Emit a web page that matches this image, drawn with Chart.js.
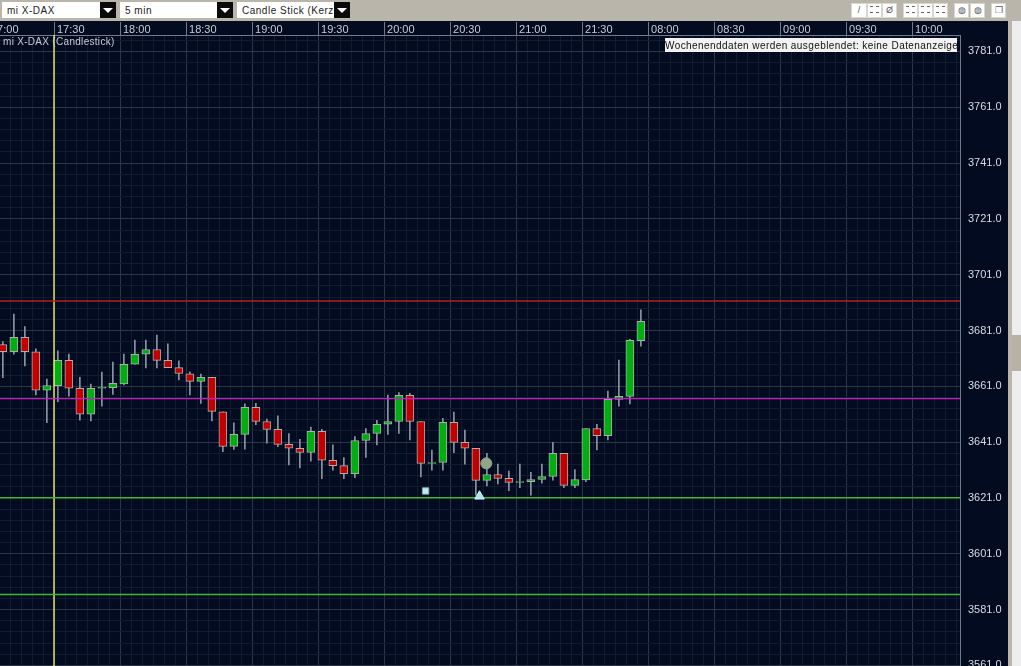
<!DOCTYPE html>
<html>
<head>
<meta charset="utf-8">
<title>mi X-DAX</title>
<script src="https://cdn.jsdelivr.net/npm/chart.js@4/dist/chart.umd.min.js"></script>
<style>
  html, body { margin: 0; height: 100%; overflow: hidden; background: #b9b5aa; font-family: "Liberation Sans", sans-serif; }
  #chart { position: absolute; left: -12px; top: 21px; }
  .select { position: absolute; top: 2px; height: 16px; background: #fff; font-size: 10px; line-height: 17px; letter-spacing: .5px; color: #222; padding-left: 5px; overflow: hidden; white-space: nowrap; box-sizing: border-box; }
  .arrow { position: absolute; top: 2px; width: 16px; height: 16px; background: #0a0a0a; }
  .arrow::after { content: ""; position: absolute; left: 3px; top: 6px; border: 5px solid transparent; border-top: 5px solid #fff; border-bottom: 0; }
  .btn { position: absolute; top: 3px; height: 15px; background: #fff; box-sizing: border-box; border: 1px solid #d8d6d0; color: #555; font-size: 9px; line-height: 12px; text-align: center; overflow: hidden; }
  .dash { display: block; height: 3px; margin: 2px 2px 0; border-top: 1px dashed #666; }
  #seriesName { position: absolute; left: 3px; top: 36px; color: #c8ccd2; font-size: 10px; line-height: 12px; letter-spacing: .3px; }
  #notice { position: absolute; left: 665px; top: 38px; width: 292px; height: 14px; background: #f2f2f2; color: #111; font-size: 10px; line-height: 15px; letter-spacing: .42px; text-align: center; white-space: nowrap; }
  #track { position: absolute; left: 1012px; top: 21px; width: 9px; height: 645px; background: #eeeeee; }
  #rail { position: absolute; left: 1008px; top: 21px; width: 4px; height: 645px; background: #b9b5aa; }
  #thumb { position: absolute; left: 1012px; top: 335px; width: 9px; height: 36px; background: #b8b2a6; }
</style>
</head>
<body>
<div class="select" style="left:2px;width:98px">mi X-DAX</div><div class="arrow" style="left:100px"></div>
<div class="select" style="left:120px;width:97px">5 min</div><div class="arrow" style="left:217px"></div>
<div class="select" style="left:237px;width:97px">Candle Stick (Kerzen)</div><div class="arrow" style="left:334px"></div>
<div class="btn" style="left:851px;width:16px">/</div>
<div class="btn" style="left:867px;width:15px"><span class="dash"></span><span class="dash"></span></div>
<div class="btn" style="left:882px;width:15px">Ø</div>
<div class="btn" style="left:903px;width:15px"><span class="dash"></span><span class="dash"></span></div>
<div class="btn" style="left:918px;width:15px"><span class="dash"></span><span class="dash"></span></div>
<div class="btn" style="left:933px;width:15px"><span class="dash"></span><span class="dash"></span></div>
<div class="btn" style="left:954px;width:15px">◍</div>
<div class="btn" style="left:970px;width:15px">◍</div>
<div class="btn" style="left:991px;width:15px">❐</div>
<canvas id="chart" width="1020" height="679"></canvas>
<div id="seriesName">mi X-DAX (Candlestick)</div>
<div id="notice">Wochenenddaten werden ausgeblendet: keine Datenanzeige</div>
<div id="rail"></div><div id="track"></div><div id="thumb"></div>
<script>
// candle times in minutes after 17:00, one every 5 min
const candleMinutes = [5, 10, 15, 20, 25, 30, 35, 40, 45, 50, 55, 60, 65, 70, 75, 80, 85, 90, 95, 100,
  105, 110, 115, 120, 125, 130, 135, 140, 145, 150, 155, 160, 165, 170, 175, 180, 185, 190, 195, 200,
  205, 210, 215, 220, 225, 230, 235, 240, 245, 250, 255, 260, 265, 270, 275, 280, 285, 290, 295];
const opens = [3676.0, 3673.4, 3678.6, 3673.4, 3659.6, 3661.2, 3670.3, 3660.3, 3651.0, 3660.3,
  3660.5, 3661.9, 3668.9, 3672.5, 3674.2, 3670.3, 3667.7, 3665.5, 3662.8, 3664.2,
  3651.9, 3639.5, 3643.8, 3653.5, 3648.4, 3645.6, 3640.2, 3638.8, 3637.3, 3644.9,
  3634.5, 3632.6, 3629.7, 3641.6, 3644.1, 3647.4, 3648.4, 3657.8, 3648.4, 3633.4,
  3633.7, 3648.1, 3640.9, 3638.8, 3627.3, 3629.4, 3628.0, 3626.6, 3626.8, 3627.6,
  3628.7, 3637.0, 3625.5, 3627.5, 3645.9, 3643.3, 3656.3, 3657.4, 3677.4];
const closes = [3673.4, 3678.6, 3673.4, 3659.6, 3661.3, 3670.3, 3660.3, 3651.0, 3660.3, 3660.6,
  3662.1, 3668.9, 3672.5, 3674.2, 3670.3, 3667.7, 3665.6, 3662.8, 3664.2, 3652.0,
  3639.5, 3643.8, 3653.5, 3648.4, 3645.6, 3640.2, 3638.8, 3637.3, 3644.9, 3634.5,
  3632.6, 3629.7, 3641.6, 3644.1, 3647.4, 3648.4, 3657.8, 3648.4, 3633.4, 3633.7,
  3648.1, 3640.9, 3638.8, 3627.3, 3629.4, 3628.0, 3626.6, 3626.9, 3627.6, 3628.7,
  3637.0, 3625.5, 3627.6, 3645.9, 3643.3, 3656.3, 3657.4, 3677.5, 3684.3];
const highs = [3677.0, 3686.9, 3682.4, 3674.4, 3663.6, 3673.7, 3672.6, 3664.2, 3661.8, 3666.1,
  3669.7, 3672.6, 3677.6, 3677.6, 3679.4, 3676.2, 3670.1, 3666.2, 3665.4, 3664.2,
  3651.9, 3647.9, 3654.7, 3654.9, 3649.3, 3650.4, 3644.1, 3642.0, 3646.4, 3645.6,
  3640.0, 3635.5, 3643.0, 3645.9, 3648.8, 3657.9, 3658.8, 3658.5, 3648.4, 3638.2,
  3649.5, 3651.8, 3645.3, 3638.8, 3637.0, 3633.1, 3630.6, 3633.1, 3630.2, 3633.1,
  3640.9, 3637.0, 3631.2, 3645.9, 3647.4, 3659.3, 3670.4, 3677.8, 3688.4];
const lows = [3664.1, 3672.5, 3668.3, 3657.9, 3648.0, 3655.5, 3657.5, 3648.9, 3648.6, 3653.9,
  3658.1, 3661.5, 3668.9, 3667.6, 3667.6, 3667.7, 3663.3, 3657.9, 3654.9, 3648.6,
  3637.6, 3638.4, 3638.5, 3647.3, 3640.6, 3639.4, 3632.8, 3631.8, 3634.2, 3627.9,
  3631.0, 3627.9, 3628.3, 3635.5, 3640.0, 3643.8, 3644.1, 3641.8, 3628.5, 3631.0,
  3631.0, 3637.2, 3633.1, 3622.0, 3625.3, 3626.0, 3623.6, 3624.7, 3622.0, 3626.3,
  3627.4, 3624.7, 3624.7, 3626.8, 3638.2, 3641.8, 3653.9, 3654.7, 3675.4];

const timeLabels = ["17:00", "17:30", "18:00", "18:30", "19:00", "19:30", "20:00", "20:30", "21:00", "21:30",
  "08:00", "08:30", "09:00", "09:30", "10:00"];
const priceTicks = [3781, 3761, 3741, 3721, 3701, 3681, 3661, 3641, 3621, 3601, 3581, 3561];

const redLevel = 3691.6;
const magentaLevel = 3656.6;
const greenLevels = [3621.1, 3586.4];
const cursorMinute = 30;
const squareMark = { x: 198.9, y: 3623.5 };
const triangleMark = { x: 223.4, y: 3621.6 };
const circleMark = { x: 226.5, y: 3633.4 };

const xMax = 441.8, yMax = 3786.9, yMin = 3548.6;
const candleShift = 1.75;   // candles sit a little right of their grid line

const candleX = candleMinutes.map(m => m + candleShift);
const upDown = opens.map((o, i) => closes[i] >= o);

function hLine(y, color) {
  return {
    type: "line", data: [{ x: 0, y }, { x: xMax, y }], borderColor: color, borderWidth: 1.4,
    pointRadius: 0, order: 1
  };
}
function marker(point, style, radius, color, edge) {
  return {
    type: "scatter", data: [point], pointStyle: style, pointRadius: radius,
    backgroundColor: color, borderColor: edge, borderWidth: 1, order: 0
  };
}
// tick labels must not pull the plot area in from the canvas edge
function noLabelPadding(s) {
  s.paddingLeft = s.paddingRight = s.paddingTop = s.paddingBottom = 0;
}

const datasets = [
  {
    type: "bar", data: candleX.map((x, i) => ({ x, y: [lows[i], highs[i]] })),
    backgroundColor: "#8c95a3", barThickness: 1, grouped: false, order: 4
  },
  {
    type: "bar", data: candleX.map((x, i) => ({ x, y: [opens[i], closes[i]] })),
    backgroundColor: upDown.map(u => u ? "#00ae12" : "#c20000"),
    borderColor: "#aab0ae", borderWidth: 1, borderSkipped: false,
    barThickness: 8, grouped: false, order: 3
  },
  hLine(redLevel, "#b3221f"),
  hLine(magentaLevel, "#c41fc0"),
  hLine(greenLevels[0], "#45b53a"),
  hLine(greenLevels[1], "#45b53a"),
  {
    type: "line", data: [{ x: cursorMinute, y: yMin }, { x: cursorMinute, y: yMax }],
    borderColor: "#f0f060", borderWidth: 1.4, pointRadius: 0, order: 2
  },
  marker(squareMark, "rect", 4.5, "#b4f2f4", "#8aa8b0"),
  marker(triangleMark, "triangle", 5.5, "#a8e6f2", "#d8f4f8"),
  marker(circleMark, "circle", 5.5, "#8ea68a", "#8ea68a")
];

// fine grid every 5 min / 4 points, stronger line on each labelled tick
const xTicks = [];
for (let m = 0; m <= xMax; m += 5) xTicks.push({ value: m });
const yTicks = [];
for (let v = 3781 + 4; v >= yMin; v -= 4) yTicks.push({ value: v });

new Chart(document.getElementById("chart"), {
  data: { datasets },
  options: {
    responsive: false,
    animation: false,
    layout: { padding: 0, autoPadding: false },
    plugins: { legend: { display: false }, tooltip: { enabled: false } },
    scales: {
      x: {
        type: "linear", position: "top", min: 0, max: xMax, offset: false,
        afterBuildTicks: s => { s.ticks = xTicks.map(t => ({ ...t })); },
        afterFit: s => { s.height = 14; noLabelPadding(s); },
        border: { color: "#6f7b8c" },
        grid: {
          offset: false,
          color: c => c.tick && c.tick.value % 30 === 0 ? "#2b3648" : "#121c30",
          tickColor: c => c.tick && c.tick.value % 30 === 0 ? "#6f7b8c" : "rgba(0,0,0,0)",
          tickLength: 13
        },
        ticks: {
          autoSkip: false, maxRotation: 0, align: "start", padding: -15, labelOffset: 3,
          color: "#c8ccd2", font: { family: "Liberation Sans", size: 11 },
          callback: v => v % 30 === 0 ? timeLabels[v / 30] : ""
        }
      },
      y: {
        type: "linear", position: "right", min: yMin, max: yMax,
        afterBuildTicks: s => { s.ticks = yTicks.map(t => ({ ...t })); },
        afterFit: s => { s.width = 48; noLabelPadding(s); },
        border: { color: "#6f7b8c" },
        grid: {
          color: c => c.tick && priceTicks.includes(c.tick.value) ? "#2b3648" : "#121c30",
          drawTicks: false
        },
        ticks: {
          autoSkip: false, padding: 8, color: "#d8dbe0",
          font: { family: "Liberation Sans", size: 11 },
          callback: v => priceTicks.includes(v) ? v.toFixed(1) : ""
        }
      }
    }
  },
  plugins: [{
    id: "panelBackground",
    beforeDraw(chart) {
      const c = chart.ctx;
      c.save();
      c.fillStyle = "#020b1f";
      c.fillRect(0, 0, chart.width, chart.height);
      c.restore();
    }
  }]
});
</script>
</body>
</html>
